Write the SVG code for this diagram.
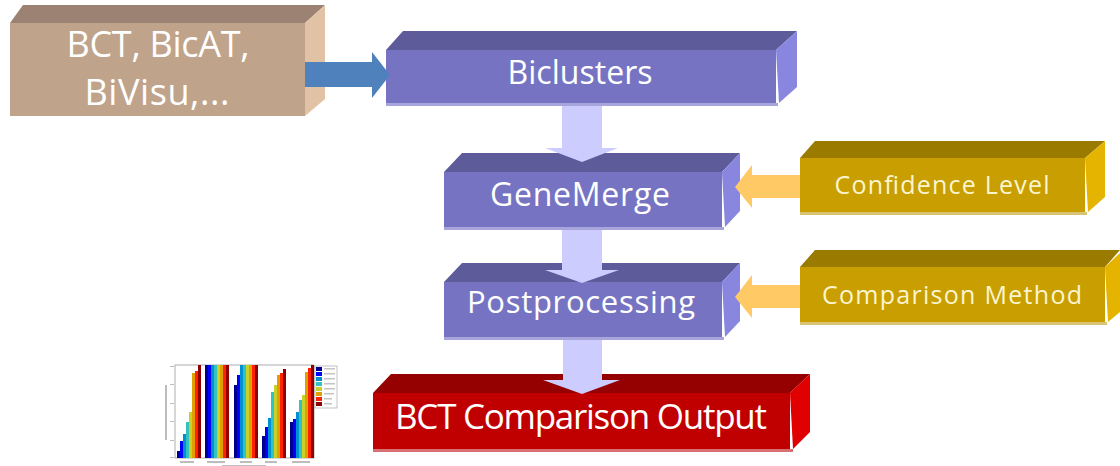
<svg xmlns="http://www.w3.org/2000/svg" width="1120" height="466" viewBox="0 0 1120 466">
  <defs>
    <style>
      .lbl { font-family: "Open Sans", "Noto Sans", "Liberation Sans", sans-serif; fill: #ffffff; text-anchor: middle; }
      .tan-front { fill: #bfa38b; } .tan-top { fill: #9b8272; } .tan-side { fill: #e2c2a4; }
      .pur-front { fill: #7674c2; } .pur-top { fill: #5d5b99; } .pur-side { fill: #8886df; } .pur-edge { fill: #a7a5dc; }
      .gld-front { fill: #c89e00; } .gld-top { fill: #9a7b00; } .gld-side { fill: #e5b400; } .gld-edge { fill: #d9c374; }
      .red-front { fill: #c00000; } .red-top { fill: #950000; } .red-side { fill: #e10000; } .red-edge { fill: #d77070; }
      .flow { fill: #ccccfe; }
      .feed { fill: #ffc965; }
      .src { fill: #4f81bd; }
    </style>
    <filter id="soft" x="-5%" y="-5%" width="110%" height="110%">
      <feGaussianBlur stdDeviation="0.7"/>
    </filter>
  </defs>

  <!-- source tools block -->
  <g id="tools">
    <polygon class="tan-top" points="10,23 23,5 325,5 305,23"/>
    <polygon class="tan-side" points="305,23 325,5 325,99 305,116"/>
    <rect class="tan-front" x="10" y="23" width="295" height="93"/>
    <text class="lbl" x="158" y="57" font-size="36" textLength="183">BCT, BicAT,</text>
    <text class="lbl" x="157" y="105" font-size="36" textLength="145">BiVisu,...</text>
  </g>

  <g id="biclusters">
    <polygon class="pur-top" points="386,50 403,31 797,31 776,50"/>
    <polygon class="pur-side" points="776,50 797,31 797,87 779,103"/>
    <rect class="pur-front" x="386" y="50" width="390" height="53"/>
    <rect class="pur-edge" x="386" y="103" width="392" height="3"/>
    <text class="lbl" x="580" y="84" font-size="32" textLength="145">Biclusters</text>
  </g>

  <g id="genemerge">
    <polygon class="pur-top" points="444,172 462,153 740,153 722,172"/>
    <polygon class="pur-side" points="722,172 740,153 740,211 725,227"/>
    <rect class="pur-front" x="444" y="172" width="278" height="55"/>
    <rect class="pur-edge" x="444" y="227" width="280" height="3"/>
    <text class="lbl" x="580" y="206" font-size="32" textLength="180">GeneMerge</text>
  </g>

  <g id="postprocessing">
    <polygon class="pur-top" points="444,282 462,263 740,263 722,282"/>
    <polygon class="pur-side" points="722,282 740,263 740,321 725,337"/>
    <rect class="pur-front" x="444" y="282" width="278" height="55"/>
    <rect class="pur-edge" x="444" y="337" width="280" height="3"/>
    <text class="lbl" x="581" y="313" font-size="31" textLength="228">Postprocessing</text>
  </g>

  <g id="confidence">
    <polygon class="gld-top" points="800,158 815,141 1105,141 1085,158"/>
    <polygon class="gld-side" points="1085,158 1105,141 1105,197 1088,212"/>
    <rect class="gld-front" x="800" y="158" width="285" height="54"/>
    <rect class="gld-edge" x="800" y="212" width="287" height="3"/>
    <text class="lbl" x="942" y="194" font-size="25" textLength="215" style="fill:#fbf5cf">Confidence Level</text>
  </g>

  <g id="comparison-method">
    <polygon class="gld-top" points="800,267 815,250 1120,250 1105,267"/>
    <polygon class="gld-side" points="1105,267 1120,253 1120,312 1108,322"/>
    <rect class="gld-front" x="800" y="267" width="305" height="55"/>
    <rect class="gld-edge" x="800" y="322" width="307" height="3"/>
    <text class="lbl" x="952" y="304" font-size="25" textLength="260" style="fill:#fbf5cf">Comparison Method</text>
  </g>

  <g id="output">
    <polygon class="red-top" points="373,393 391,374 810,374 790,393"/>
    <polygon class="red-side" points="790,393 810,374 810,432 793,449"/>
    <rect class="red-front" x="373" y="393" width="417" height="56"/>
    <rect class="red-edge" x="373" y="449" width="420" height="3"/>
    <text class="lbl" x="581" y="429" font-size="35" textLength="372">BCT Comparison Output</text>
  </g>

  <!-- small bar chart of per-tool results -->
  <g id="result-chart" filter="url(#soft)">
    <rect x="175" y="365" width="139" height="93" fill="#ffffff" stroke="#9a9a9a" stroke-width="0.8"/>
    <g fill="#bdbdbd">
      <rect x="170" y="366" width="4" height="1"/><rect x="170" y="384" width="4" height="1"/>
      <rect x="170" y="403" width="4" height="1"/><rect x="170" y="421" width="4" height="1"/>
      <rect x="170" y="440" width="4" height="1"/><rect x="170" y="457" width="4" height="1"/>
      <rect x="165" y="385" width="2" height="55"/>
      <rect x="180" y="461" width="14" height="2"/><rect x="207" y="461" width="18" height="2"/>
      <rect x="240" y="461" width="12" height="2"/><rect x="265" y="461" width="12" height="2"/>
      <rect x="292" y="461" width="18" height="2"/><rect x="222" y="465" width="44" height="1"/>
    </g>
    <!-- group 1 -->
    <rect x="177" y="451" width="3" height="7" fill="#00008f"/>
    <rect x="180" y="441" width="3" height="17" fill="#0000ff"/>
    <rect x="183" y="434" width="3" height="24" fill="#0090d0"/>
    <rect x="186" y="422" width="3" height="36" fill="#33c2c2"/>
    <rect x="189" y="412" width="3" height="46" fill="#c8d02a"/>
    <rect x="192" y="373" width="3" height="85" fill="#e0a000"/>
    <rect x="195" y="371" width="3" height="87" fill="#ff2200"/>
    <rect x="198" y="365" width="3" height="93" fill="#8f0000"/>
    <!-- group 2 -->
    <rect x="205" y="365" width="3" height="93" fill="#00008f"/>
    <rect x="208" y="365" width="3" height="93" fill="#0000ff"/>
    <rect x="211" y="365" width="3" height="93" fill="#0090d0"/>
    <rect x="214" y="365" width="3" height="93" fill="#33c2c2"/>
    <rect x="217" y="365" width="3" height="93" fill="#c8d02a"/>
    <rect x="220" y="365" width="3" height="93" fill="#e0a000"/>
    <rect x="223" y="365" width="3" height="93" fill="#ff2200"/>
    <rect x="226" y="365" width="3" height="93" fill="#8f0000"/>
    <!-- group 3 -->
    <rect x="234" y="385" width="3" height="73" fill="#00008f"/>
    <rect x="237" y="375" width="3" height="83" fill="#0000ff"/>
    <rect x="240" y="365" width="3" height="93" fill="#0090d0"/>
    <rect x="243" y="365" width="3" height="93" fill="#33c2c2"/>
    <rect x="246" y="365" width="3" height="93" fill="#c8d02a"/>
    <rect x="249" y="365" width="3" height="93" fill="#e0a000"/>
    <rect x="252" y="365" width="3" height="93" fill="#ff2200"/>
    <rect x="255" y="365" width="3" height="93" fill="#8f0000"/>
    <!-- group 4 -->
    <rect x="262" y="436" width="3" height="22" fill="#00008f"/>
    <rect x="265" y="427" width="3" height="31" fill="#0000ff"/>
    <rect x="268" y="418" width="3" height="40" fill="#0090d0"/>
    <rect x="271" y="392" width="3" height="66" fill="#33c2c2"/>
    <rect x="274" y="385" width="3" height="73" fill="#c8d02a"/>
    <rect x="277" y="375" width="3" height="83" fill="#e0a000"/>
    <rect x="280" y="373" width="3" height="85" fill="#ff2200"/>
    <rect x="283" y="369" width="3" height="89" fill="#8f0000"/>
    <!-- group 5 -->
    <rect x="290" y="422" width="3" height="36" fill="#00008f"/>
    <rect x="293" y="419" width="3" height="39" fill="#0000ff"/>
    <rect x="296" y="412" width="3" height="46" fill="#0090d0"/>
    <rect x="299" y="400" width="3" height="58" fill="#33c2c2"/>
    <rect x="302" y="395" width="3" height="63" fill="#c8d02a"/>
    <rect x="305" y="372" width="3" height="86" fill="#e0a000"/>
    <rect x="308" y="368" width="3" height="90" fill="#ff2200"/>
    <rect x="311" y="365" width="3" height="93" fill="#8f0000"/>
    <!-- legend -->
    <rect x="315" y="366" width="22" height="42" fill="#ffffff" stroke="#9a9a9a" stroke-width="0.6"/>
    <rect x="316" y="367" width="6" height="4" fill="#00008f"/>
    <rect x="316" y="372" width="6" height="4" fill="#0000ff"/>
    <rect x="316" y="377" width="6" height="4" fill="#0090d0"/>
    <rect x="316" y="382" width="6" height="4" fill="#33c2c2"/>
    <rect x="316" y="387" width="6" height="4" fill="#c8d02a"/>
    <rect x="316" y="392" width="6" height="4" fill="#e0a000"/>
    <rect x="316" y="397" width="6" height="4" fill="#ff2200"/>
    <rect x="316" y="402" width="6" height="4" fill="#8f0000"/>
    <g fill="#c4c4c4">
      <rect x="324" y="368" width="11" height="1.5"/><rect x="324" y="373" width="11" height="1.5"/>
      <rect x="324" y="378" width="11" height="1.5"/><rect x="324" y="383" width="11" height="1.5"/>
      <rect x="324" y="388" width="11" height="1.5"/><rect x="324" y="393" width="10" height="1.5"/>
      <rect x="324" y="398" width="8" height="1.5"/><rect x="324" y="403" width="8" height="1.5"/>
    </g>
  </g>

  <!-- connectors -->
  <g id="connectors">
    <polygon class="src" points="305,62 372,62 372,52 390,75 372,98 372,87 305,87"/>
    <polygon class="flow" points="562,106 602,106 602,148 618,148 582,162 545,148 562,148"/>
    <polygon class="flow" points="562,230 602,230 602,270 619,270 582,283 545,270 562,270"/>
    <polygon class="flow" points="563,340 602,340 602,380 620,380 582,394 543,380 563,380"/>
    <polygon class="feed" points="800,175 752,175 752,165 735,187 752,208 752,198 800,198"/>
    <polygon class="feed" points="800,285 752,285 752,275 735,297 752,318 752,308 800,308"/>
  </g>
</svg>
